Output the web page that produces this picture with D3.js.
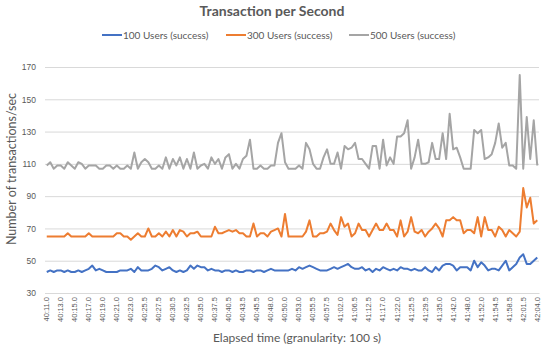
<!DOCTYPE html>
<html>
<head>
<meta charset="utf-8">
<script src="https://cdn.jsdelivr.net/npm/d3@7"></script>
<style>
  body { margin: 0; background: #ffffff; }
  svg { display: block; font-family: Lato, "Open Sans", sans-serif; }
</style>
</head>
<body>
<div id="chart"></div>
<script>
// tick labels shown on the category axis (every 4th sample)
const tickLabels = ["40:11.0","40:13.0","40:15.0","40:17.0","40:19.0","40:21.0","40:23.0","40:25.5",
  "40:27.5","40:30.5","40:32.5","40:35.0","40:37.5","40:40.5","40:43.5","40:45.5","40:48.0","40:50.0",
  "40:53.0","40:55.5","40:57.5","41:02.0","41:06.5","41:12.5","41:17.0","41:22.0","41:25.5","41:29.5",
  "41:35.0","41:42.0","41:48.0","41:52.0","41:54.5","41:58.5","42:01.5","42:04.0"];
const labelStep = 4;

const users100 = [
  43,44,43,44,44,43,44,43,43,44, 43,44,45,47,44,45,44,43,43,43,
  43,44,44,44,45,43,46,44,44,44, 45,47,46,44,45,46,44,43,44,43,
  44,47,45,47,46,46,44,45,44,44, 43,44,44,43,44,43,43,44,44,43,
  44,44,43,44,45,44,44,44,44,44, 45,44,46,45,46,47,46,45,44,44,
  44,45,46,45,46,47,48,46,45,45, 46,44,45,43,45,44,46,45,44,45,
  44,46,45,45,44,45,44,44,46,44, 43,46,44,47,48,48,47,44,46,46,
  46,44,50,46,49,47,44,45,45,44, 47,50,44,46,48,52,54,48,48,50,
  52];
const users300 = [
  65,65,65,65,65,65,67,65,65,65, 65,65,67,65,65,65,65,65,65,65,
  67,67,65,65,63,65,67,65,65,70, 65,65,67,65,68,65,69,65,69,68,
  65,67,67,68,65,65,65,65,71,67, 67,68,69,68,69,67,67,65,65,73,
  65,67,67,65,68,69,70,65,79,65, 65,65,65,65,68,75,65,65,67,67,
  68,73,69,66,77,71,73,65,67,73, 69,69,65,69,73,69,69,73,69,69,
  65,75,65,68,77,68,67,69,65,68, 70,73,70,65,75,75,77,75,75,67,
  69,69,67,77,65,77,69,69,65,71, 69,65,69,67,65,68,95,83,89,73,
  75];
const users500 = [
  109,111,107,109,109,107,111,109,107,111, 110,107,109,109,109,107,107,109,109,107,
  109,107,107,109,107,117,107,111,113,111, 107,107,109,107,114,107,113,109,114,107,
  113,107,117,107,109,110,107,114,110,113, 107,114,116,107,110,107,113,115,125,107,
  107,109,107,107,109,109,123,129,111,107, 107,107,109,107,123,119,110,107,107,114,
  119,110,110,117,107,121,119,120,123,113, 113,110,107,121,121,107,125,109,114,110,
  127,127,129,137,107,114,125,110,110,111, 123,113,113,129,113,141,119,120,114,107,
  107,107,131,129,131,113,114,116,123,135, 120,123,109,109,107,165,107,139,113,137,
  109];

const seriesNames = ["100 Users (success)", "300 Users (success)", "500 Users (success)"];
const seriesColors = ["#4472C4", "#ED7D31", "#A5A5A5"];
const yTicks = [30, 50, 70, 90, 110, 130, 150, 170];

const width = 550, height = 351;
const plot = { left: 45, right: 539, top: 67, bottom: 293 };
const textColor = "#595959";

const svg = d3.select("#chart").append("svg")
  .attr("width", width)
  .attr("height", height);

const idx = d3.range(users100.length);
const x = d3.scaleBand().domain(idx).range([plot.left, plot.right]);
const xc = i => x(i) + x.bandwidth() / 2;
const y = d3.scaleLinear().domain([30, 170]).range([plot.bottom, plot.top]);

// gridlines + y labels
const yAxis = d3.axisLeft(y).tickValues(yTicks).tickSize(-(plot.right - plot.left)).tickPadding(9);
const gy = svg.append("g")
  .attr("transform", `translate(${plot.left},0)`)
  .call(yAxis);
gy.select(".domain").remove();
gy.selectAll(".tick line").attr("stroke", "#d9d9d9").attr("stroke-width", 1);
gy.selectAll(".tick text").attr("fill", textColor).style("font-size", "8.5px");

// category axis
const xAxis = d3.axisBottom(x)
  .tickValues(idx.filter(i => i % labelStep === 0))
  .tickFormat(i => tickLabels[i / labelStep])
  .tickSize(0);
const gx = svg.append("g")
  .attr("transform", `translate(0,${plot.bottom})`)
  .call(xAxis);
gx.select(".domain").attr("stroke", "#d9d9d9");
gx.selectAll(".tick text")
  .attr("fill", textColor)
  .style("font-size", "7.5px")
  .attr("transform", "rotate(-90)")
  .attr("text-anchor", "end")
  .attr("x", -4)
  .attr("y", 0)
  .attr("dy", "0.32em");

// lines
const line = d3.line().x((d, i) => xc(i)).y(d => y(d));
[users100, users300, users500].forEach((s, k) => {
  svg.append("path")
    .datum(s)
    .attr("fill", "none")
    .attr("stroke", seriesColors[k])
    .attr("stroke-width", 2)
    .attr("stroke-linejoin", "round")
    .attr("d", line);
});

// title
svg.append("text")
  .attr("x", 272).attr("y", 16)
  .attr("text-anchor", "middle")
  .attr("fill", textColor)
  .style("font-size", "14px")
  .style("font-weight", "bold")
  .text("Transaction per Second");

// legend
const legendX = [102, 226, 349];
seriesNames.forEach((name, k) => {
  const g = svg.append("g").attr("transform", `translate(${legendX[k]},35)`);
  g.append("line").attr("x1", 0).attr("x2", 20).attr("y1", 0).attr("y2", 0)
    .attr("stroke", seriesColors[k]).attr("stroke-width", 2);
  g.append("text").attr("x", 21).attr("y", 0).attr("dy", "0.35em")
    .attr("fill", textColor).style("font-size", "10px").text(name);
});

// axis titles
svg.append("text")
  .attr("transform", `translate(16,169) rotate(-90)`)
  .attr("text-anchor", "middle")
  .attr("fill", textColor)
  .style("font-size", "12.5px")
  .text("Number of transactions/sec");

svg.append("text")
  .attr("x", 297).attr("y", 342)
  .attr("text-anchor", "middle")
  .attr("fill", textColor)
  .style("font-size", "12px")
  .text("Elapsed time (granularity: 100 s)");
</script>
</body>
</html>
